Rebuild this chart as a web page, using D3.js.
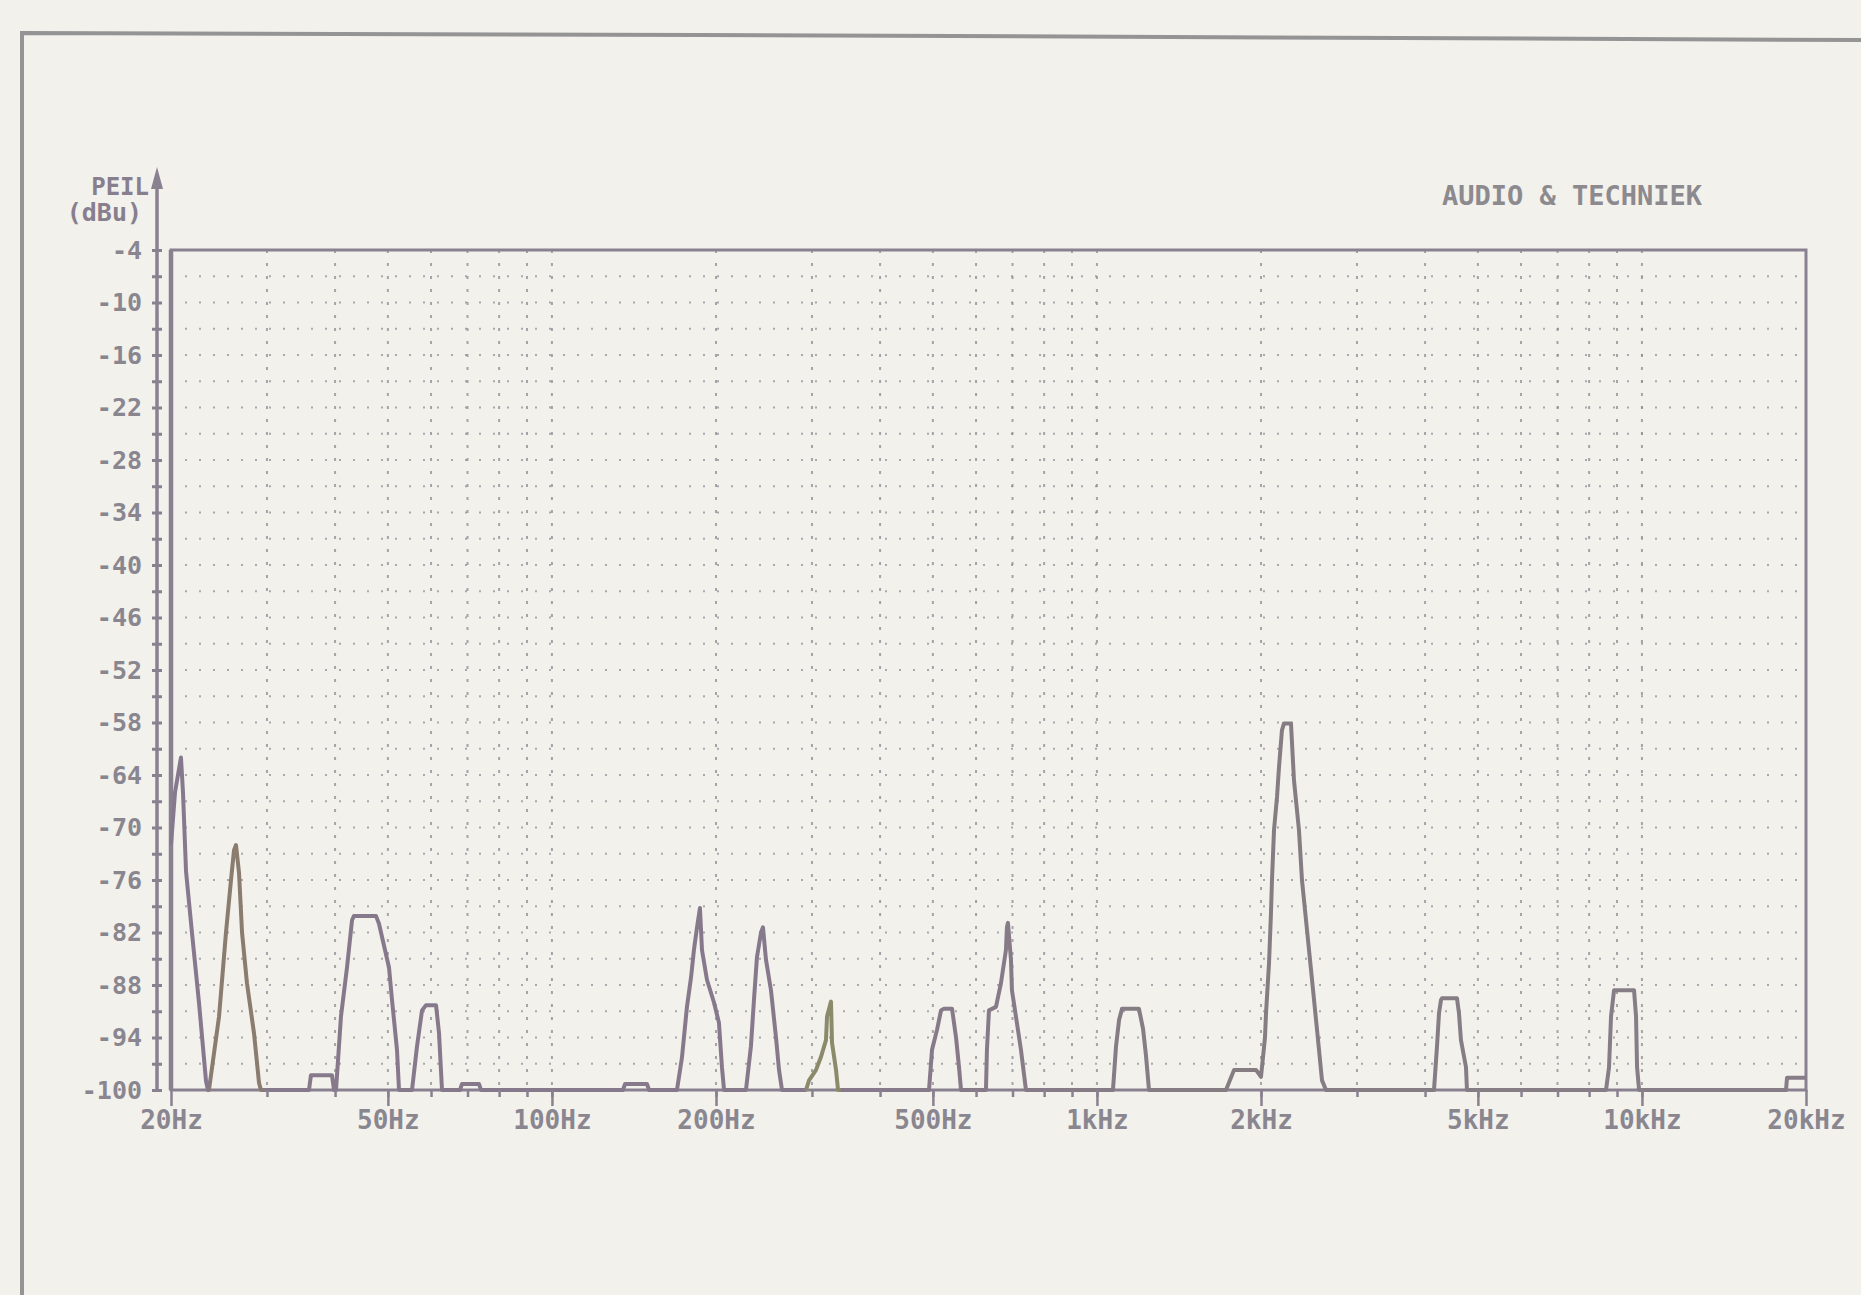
<!DOCTYPE html>
<html>
<head>
<meta charset="utf-8">
<script src="https://cdn.jsdelivr.net/npm/d3@7"></script>
<style>
  body { margin: 0; background: #f2f1ec; }
  svg text { font-family: "DejaVu Sans Mono", monospace; font-weight: bold; }
</style>
</head>
<body>
<div id="chart-container"></div>
<script>
// SPECTRUM TRACE (frequency in Hz, level in dBu)
var freqs = [
  20, 20.34, 20.86, 21.04, 21.31, 21.85, 22.51, 23.19, 23.38,
  23.48, 24.50, 25.23, 25.77, 26.10, 26.32, 26.66, 27.00, 27.57, 28.40, 29.01, 29.25,
  35.83, 36.13, 39.48, 39.82,
  40.16, 41.01, 42.07, 42.97, 43.33, 47.55, 48.16, 50.24, 50.88, 51.96, 52.41,
  55.37, 56.55, 57.76, 58.74, 61.28, 62.06, 62.85,
  67.81, 68.39, 73.48, 74.10, 135.0, 136.2, 149.4, 150.7,
  169.6, 173.2, 176.9, 180.0, 182.2, 184.6, 186.9, 188.5, 192.5, 198.3, 202.5, 205.1, 206.9,
  227.0, 231.8, 234.8, 237.8, 241.9, 243.9, 247.0, 252.3, 257.7, 261.0, 264.3,
  292.5, 296.3, 305.2, 311.7, 318.3, 319.7, 325.1, 326.5, 332.1, 334.9,
  491.9, 498.2, 508.9, 517.5, 524.1, 542.1, 551.4, 558.4, 563.1,
  625.7, 628.3, 633.7, 652.7, 666.6, 680.8, 683.7, 686.6, 695.4, 698.3, 710.2, 725.4, 740.9,
  1070, 1084, 1098, 1112, 1194, 1215, 1230, 1246,
  1725, 1785, 1958, 2000, 2034, 2043, 2069, 2086, 2095, 2113, 2140, 2158, 2185, 2204,
  2270, 2299, 2348, 2378, 2429, 2481, 2534, 2588, 2632,
  4154, 4207, 4243, 4279, 4297, 4577, 4616, 4655, 4755, 4775,
  8592, 8702, 8776, 8888, 9672, 9754, 9796, 9880,
  18380, 18460, 20000
];
var levels = [
  -72, -66, -62, -66, -75, -82, -90, -99, -100,
  -100, -91.6, -82, -76, -72.6, -72, -75.2, -82, -87.8, -93.5, -99.2, -100,
  -100, -98.3, -98.3, -100,
  -100, -91.6, -86, -80.6, -80.1, -80.1, -81, -86, -89.7, -95.4, -100,
  -100, -95, -90.9, -90.3, -90.3, -93.5, -100,
  -100, -99.3, -99.3, -100, -100, -99.3, -99.3, -100,
  -100, -96.3, -90.5, -87.1, -84, -81.4, -79.2, -84, -87.4, -90, -92.3, -97.4, -100,
  -100, -95, -89.7, -84.8, -82, -81.4, -85.1, -88.6, -94, -97.7, -100,
  -100, -98.9, -97.7, -96.2, -94.3, -91.6, -89.9, -94.6, -97.7, -100,
  -100, -95.4, -93.1, -90.9, -90.7, -90.7, -94, -97.4, -100,
  -100, -95.4, -90.9, -90.5, -87.8, -84, -81.4, -80.9, -85.1, -88.6, -91.6, -95.4, -100,
  -100, -95, -92, -90.7, -90.7, -93, -96, -100,
  -100, -97.7, -97.7, -98.5, -94, -91.2, -85.5, -79.8, -76, -70.3, -66.5, -63.1, -58.9, -58.1,
  -58.1, -64.6, -70.3, -76, -81.7, -87.4, -93.1, -98.9, -100,
  -100, -95, -91.2, -89.7, -89.5, -89.5, -91.2, -94.3, -97.4, -100,
  -100, -97.4, -91.6, -88.6, -88.6, -91.6, -97.4, -100,
  -100, -98.6, -98.6
];

// AXIS TICKS AND LABELS
var levelTicks = [-4, -10, -16, -22, -28, -34, -40, -46, -52, -58, -64, -70, -76, -82, -88, -94, -100];
var levelMinorTicks = [-4, -7, -10, -13, -16, -19, -22, -25, -28, -31, -34, -37, -40, -43, -46, -49, -52,
  -55, -58, -61, -64, -67, -70, -73, -76, -79, -82, -85, -88, -91, -94, -97, -100];
var freqTicks = [20, 50, 100, 200, 500, 1000, 2000, 5000, 10000, 20000];
var freqTickLabels = ["20Hz", "50Hz", "100Hz", "200Hz", "500Hz", "1kHz", "2kHz", "5kHz", "10kHz", "20kHz"];
var gridFreqs = [30, 40, 50, 60, 70, 80, 90, 100, 200, 300, 400, 500, 600, 700, 800, 900,
  1000, 2000, 3000, 4000, 5000, 6000, 7000, 8000, 9000, 10000];

var width = 1861,
    height = 1295;

var plot = {left: 171, right: 1806, top: 250, bottom: 1090};
var axisX = 157;
var ink = "#8a8190";

var x = d3.scaleLog()
  .domain([20, 20000])
  .range([plot.left, plot.right]);

var y = d3.scaleLinear()
  .domain([-100, -4])
  .range([plot.bottom, plot.top]);

var svg = d3.select("#chart-container")
  .append("svg")
    .attr("width", width)
    .attr("height", height)
    .style("display", "block");

// PAPER EDGE OF THE SCAN
svg.append("path")
  .attr("d", "M22,1295 L22,33 L700,35 L1861,40")
  .attr("fill", "none")
  .attr("stroke", "#949494")
  .attr("stroke-width", 4);

// DOTTED GRID
var grid = svg.append("g").attr("id", "grid");

grid.selectAll("line.h")
  .data(levelMinorTicks.filter(function(d){ return d > -100 && d < -4; }))
  .enter().append("line")
    .attr("class", "h")
    .attr("x1", plot.left)
    .attr("x2", plot.right)
    .attr("y1", function(d){ return y(d); })
    .attr("y2", function(d){ return y(d); })
    .attr("stroke", "#8c8a92")
    .attr("stroke-width", 2)
    .attr("stroke-dasharray", "2,12")
    .attr("opacity", 0.7);

grid.selectAll("line.v")
  .data(gridFreqs)
  .enter().append("line")
    .attr("class", "v")
    .attr("x1", function(d){ return x(d); })
    .attr("x2", function(d){ return x(d); })
    .attr("y1", plot.top)
    .attr("y2", plot.bottom)
    .attr("stroke", "#8c8a92")
    .attr("stroke-width", 2)
    .attr("stroke-dasharray", "3,10")
    .attr("opacity", 0.75);

// PLOT FRAME
svg.append("rect")
  .attr("x", plot.left)
  .attr("y", plot.top)
  .attr("width", plot.right - plot.left)
  .attr("height", plot.bottom - plot.top)
  .attr("fill", "none")
  .attr("stroke", ink)
  .attr("stroke-width", 3);

// the left edge of the frame prints heavier
svg.append("line")
  .attr("x1", plot.left).attr("x2", plot.left)
  .attr("y1", plot.top).attr("y2", plot.bottom)
  .attr("stroke", ink)
  .attr("stroke-width", 4.5);

// TRACE COLOUR SHIFTS A BIT LIKE THE SCAN DOES
var grad = svg.append("defs").append("linearGradient")
  .attr("id", "traceInk")
  .attr("gradientUnits", "userSpaceOnUse")
  .attr("x1", plot.left).attr("x2", plot.right)
  .attr("y1", 0).attr("y2", 0);

[[0, "#86798e"], [0.024, "#86798e"], [0.024, "#8a7c6e"], [0.056, "#8a7c6e"], [0.056, "#87798c"],
 [0.388, "#87798c"], [0.388, "#8b8a6a"], [0.41, "#8b8a6a"], [0.41, "#87798c"],
 [0.65, "#857d82"], [1, "#877d88"]].forEach(function(s){
  grad.append("stop").attr("offset", s[0]).attr("stop-color", s[1]);
});

var trace = d3.line()
  .x(function(d){ return x(d[0]); })
  .y(function(d){ return y(d[1]); });

svg.append("path")
  .datum(d3.zip(freqs, levels))
  .attr("d", trace)
  .attr("fill", "none")
  .attr("stroke", "url(#traceInk)")
  .attr("stroke-width", 4)
  .attr("stroke-linejoin", "round");

// VERTICAL AXIS WITH ARROW
svg.append("line")
  .attr("x1", axisX).attr("x2", axisX)
  .attr("y1", 180).attr("y2", plot.bottom + 2)
  .attr("stroke", ink)
  .attr("stroke-width", 3.5);

svg.append("path")
  .attr("d", "M" + axisX + ",167 L" + (axisX - 6) + ",189 L" + (axisX + 6) + ",189 Z")
  .attr("fill", ink);

var tickLeft = d3.axisLeft(y).tickValues(levelMinorTicks).tickSize(5).tickFormat("");
var tickRight = d3.axisRight(y).tickValues(levelMinorTicks).tickSize(5).tickFormat("");

[tickLeft, tickRight].forEach(function(ax){
  var g = svg.append("g").attr("transform", "translate(" + axisX + ",0)");
  ax(g);
  g.select(".domain").remove();
  g.selectAll("line").attr("stroke", ink).attr("stroke-width", 3);
});

var yLabels = svg.append("g").attr("transform", "translate(" + axisX + ",0)");
d3.axisLeft(y)
  .tickValues(levelTicks)
  .tickSize(0)
  .tickPadding(15)
  .tickFormat(function(d){ return String(d); })(yLabels);
yLabels.select(".domain").remove();
yLabels.selectAll("text")
  .attr("fill", "#8a8690")
  .style("font-size", "25px")
  .style("font-family", "'DejaVu Sans Mono', monospace");

svg.append("text")
  .attr("x", 149).attr("y", 195)
  .attr("text-anchor", "end")
  .attr("fill", "#877f8e")
  .style("font-size", "24px")
  .text("PEIL");

svg.append("text")
  .attr("x", 142).attr("y", 221)
  .attr("text-anchor", "end")
  .attr("fill", "#877f8e")
  .style("font-size", "25px")
  .text("(dBu)");

// HORIZONTAL AXIS
var xMinor = svg.append("g").attr("transform", "translate(0," + plot.bottom + ")");
d3.axisBottom(x).tickValues(gridFreqs).tickSize(7).tickFormat("")(xMinor);
xMinor.select(".domain").remove();
xMinor.selectAll("line").attr("stroke", ink).attr("stroke-width", 2.5);

var xLabels = svg.append("g").attr("transform", "translate(0," + plot.bottom + ")");
d3.axisBottom(x)
  .tickValues(freqTicks)
  .tickSize(16)
  .tickPadding(5)
  .tickFormat(function(d, i){ return freqTickLabels[i]; })(xLabels);
xLabels.select(".domain").remove();
xLabels.selectAll("line").attr("stroke", ink).attr("stroke-width", 2.5);
xLabels.selectAll("text")
  .attr("fill", "#8a8690")
  .style("font-size", "26px")
  .style("font-family", "'DejaVu Sans Mono', monospace");

// MAGAZINE NAME
svg.append("text")
  .attr("x", 1442).attr("y", 205)
  .attr("fill", "#8c8a8e")
  .style("font-size", "27px")
  .text("AUDIO & TECHNIEK");
</script>
</body>
</html>
